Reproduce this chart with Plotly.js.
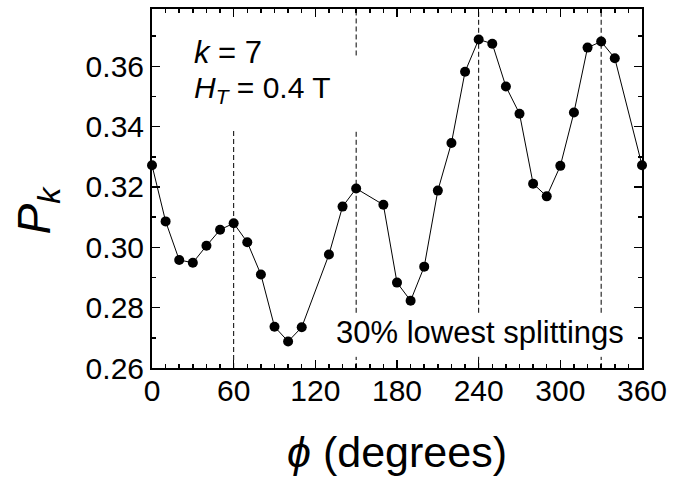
<!DOCTYPE html>
<html>
<head>
<meta charset="utf-8">
<script src="https://cdn.plot.ly/plotly-3.0.1.min.js"></script>
<style>html,body{margin:0;padding:0;background:#fff;}#chart{width:673px;height:479px;}</style>
</head>
<body>
<div id="chart"></div>
<script>
// angle phi (degrees)
const phi = [0,10,20,30,40,50,60,70,80,90,100,110,130,140,150,170,180,190,200,210,220,230,240,250,260,270,280,290,300,310,320,330,340,360];
// P_k values
const Pk = [0.3272,0.3086,0.2958,0.2949,0.3005,0.3058,0.3080,0.3017,0.2910,0.2737,0.2688,0.2735,0.2976,0.3135,0.3195,0.3141,0.2883,0.2823,0.2936,0.3188,0.3346,0.3582,0.3689,0.3675,0.3533,0.3443,0.3211,0.3169,0.3270,0.3447,0.3662,0.3682,0.3627,0.3272];
// positions of the dashed reference lines (degrees)
const refPhi = [60,150,240,330];
const xTicks = [0,60,120,180,240,300,360];
const yTicks = [0.26,0.28,0.30,0.32,0.34,0.36];

const FONT = 'Liberation Sans, Arial, Helvetica, sans-serif';
const yTop = 0.379;

// visible pieces of each dashed line (gaps where text boxes sit)
const segs = {
  60:  [[0.26, 0.3387]],
  150: [[0.3636, yTop], [0.2783, 0.3387], [0.26, 0.2637]],
  240: [[0.2783, yTop], [0.26, 0.2637]],
  330: [[0.2783, yTop], [0.26, 0.2637]]
};
const shapes = [];
refPhi.forEach(p => {
  segs[p].forEach(s => {
    shapes.push({type:'line', xref:'x', yref:'y', x0:p, x1:p, y0:s[0], y1:s[1],
      layer:'below', line:{color:'#000', width:1, dash:'5px,3px'}});
  });
});

const trace = {
  x: phi, y: Pk, type:'scatter', mode:'lines+markers',
  line:{color:'#000', width:1},
  marker:{color:'#000', size:10},
  cliponaxis:false, showlegend:false, hoverinfo:'x+y'
};

const axisCommon = {
  showline:true, linecolor:'#000', linewidth:2, mirror:'ticks',
  ticks:'inside', ticklen:8, tickwidth:1.5, tickcolor:'#000',
  showgrid:false, zeroline:false,
  tickfont:{family:FONT, size:30, color:'#000'}
};

const layout = {
  width:673, height:479,
  margin:{l:152, r:31, t:9, b:111},
  paper_bgcolor:'#fff', plot_bgcolor:'#fff',
  font:{family:FONT, color:'#000'},
  xaxis: Object.assign({}, axisCommon, {
    range:[0,360], tickvals:xTicks, ticklabelstandoff:-5,
    minor:{dtick:10, tick0:0, ticks:'inside', ticklen:4, tickwidth:1.5, tickcolor:'#000', showgrid:false},
    title:{text:'<i>ϕ</i> (degrees)', font:{family:FONT, size:43, color:'#000'}, standoff:31}
  }),
  yaxis: Object.assign({}, axisCommon, {
    range:[0.26, yTop], tickvals:yTicks, tickformat:'.2f',
    minor:{dtick:0.01, tick0:0.26, ticks:'inside', ticklen:4, tickwidth:1.5, tickcolor:'#000', showgrid:false}
  }),
  shapes: shapes,
  annotations:[
    {xref:'paper', yref:'paper', x:-0.234, y:0.44, xanchor:'center', yanchor:'middle', showarrow:false,
     textangle:-90, text:'<i>P</i><sub><i>k</i></sub>', font:{family:FONT, size:46, color:'#000'}},
    {xref:'paper', yref:'paper', x:0.081, y:0.880, xanchor:'left', yanchor:'middle', showarrow:false,
     text:'<i>k</i> = 7', font:{family:FONT, size:31, color:'#000'}},
    {xref:'paper', yref:'paper', x:0.081, y:0.776, xanchor:'left', yanchor:'middle', showarrow:false,
     text:'<i>H</i><sub><i>T</i></sub> = 0.4 T', font:{family:FONT, size:30, color:'#000'}},
    {xref:'paper', yref:'paper', x:0.670, y:0.099, xanchor:'center', yanchor:'middle', showarrow:false,
     text:'30% lowest splittings', font:{family:FONT, size:31, color:'#000'}}
  ]
};

Plotly.newPlot('chart', [trace], layout, {displayModeBar:false, staticPlot:true});
</script>
</body>
</html>
